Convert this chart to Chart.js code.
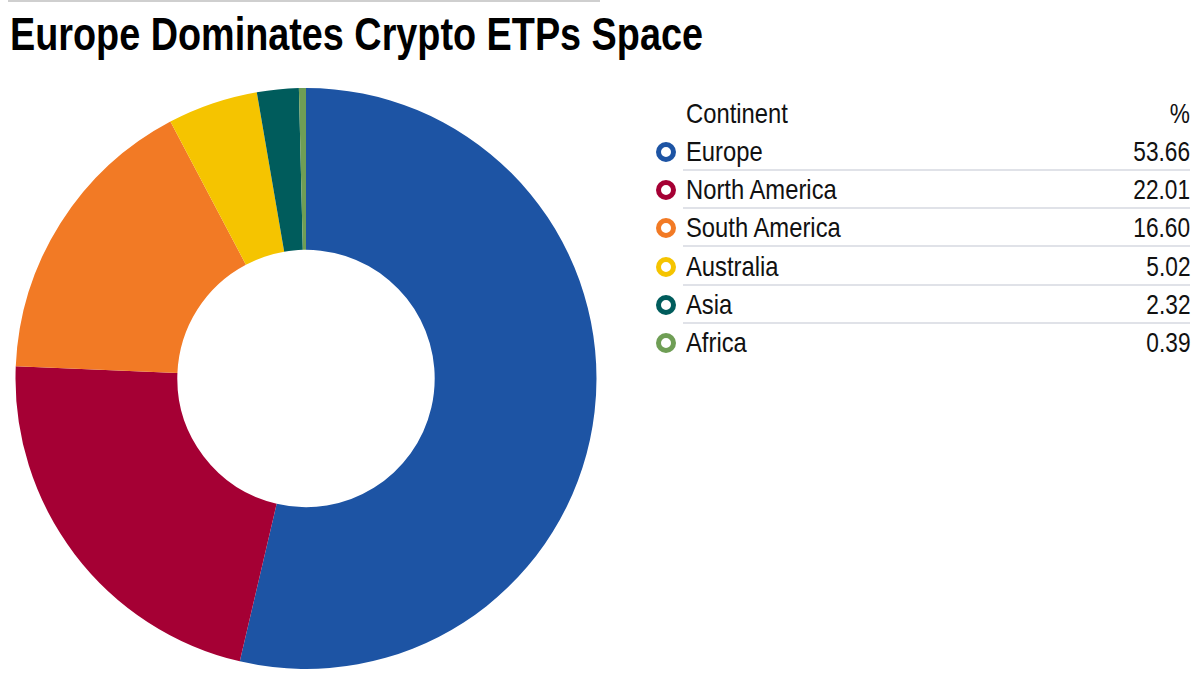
<!DOCTYPE html>
<html>
<head>
<meta charset="utf-8">
<script src="https://cdn.jsdelivr.net/npm/chart.js@4"></script>
<style>
  html, body { margin: 0; padding: 0; background: #fff; }
  body { width: 1200px; height: 675px; position: relative; overflow: hidden; font-family: "Liberation Sans", sans-serif; color: #111; }
  #topRule { position: absolute; left: 8px; top: 0; width: 592px; height: 2px; background: #cfcfcf; }
  /* no condensed font installed, so squeeze the text */
  h1 { position: absolute; left: 10px; top: 7px; margin: 0; font-size: 47px; line-height: 54px; font-weight: bold; color: #000; white-space: nowrap; transform: scaleX(.804); transform-origin: left center; }
  #chartBox { position: absolute; left: 15px; top: 88px; width: 582px; height: 581px; }
  .row { position: absolute; left: 686px; width: 504px; height: 38px; font-size: 28px; line-height: 38px; white-space: nowrap; }
  .row .name { position: absolute; left: 0; top: 0; transform: scaleX(.85); transform-origin: left center; }
  .row .val { position: absolute; right: 0; top: 0; transform: scaleX(.81); transform-origin: right center; }
  .row.line::after { content: ""; position: absolute; left: -3px; right: 0; bottom: 0; height: 2px; background: #e0e2e8; }
  .dot { position: absolute; left: -30px; top: 9px; width: 10px; height: 10px; border-width: 5px; border-style: solid; border-radius: 50%; }
</style>
</head>
<body>
<div id="topRule"></div>
<h1 id="title"></h1>
<div id="chartBox"><canvas id="myChart"></canvas></div>
<div id="legendBox"></div>
<script>
var titleText = 'Europe Dominates Crypto ETPs Space';
var headers = ['Continent', '%'];
var continents = ['Europe', 'North America', 'South America', 'Australia', 'Asia', 'Africa'];
var shares = [53.66, 22.01, 16.60, 5.02, 2.32, 0.39];
var colors = ['#1d54a4', '#a50034', '#f27a25', '#f5c400', '#005c5c', '#6f9e55'];

document.getElementById('title').textContent = titleText;

// table on the right
var box = document.getElementById('legendBox');
function addRow(name, value, top, color, line) {
  var row = document.createElement('div');
  row.className = 'row' + (line ? ' line' : '');
  row.style.top = top + 'px';
  row.innerHTML = (color ? '<span class="dot" style="border-color:' + color + '"></span>' : '') +
    '<span class="name">' + name + '</span><span class="val">' + value + '</span>';
  box.appendChild(row);
}
addRow(headers[0], headers[1], 95);
continents.forEach(function (name, i) {
  addRow(name, shares[i].toFixed(2), 133 + i * 38.2, colors[i], i < continents.length - 1);
});

var ctx = document.getElementById('myChart').getContext('2d');
new Chart(ctx, {
  type: 'doughnut',
  data: {
    labels: continents,
    datasets: [{
      data: shares,
      backgroundColor: colors,
      borderWidth: 0
    }]
  },
  options: {
    responsive: true,
    maintainAspectRatio: false,
    animation: false,
    cutout: '44.3%',
    layout: { padding: 0 },
    plugins: { legend: { display: false }, tooltip: { enabled: false } }
  }
});
</script>
</body>
</html>
